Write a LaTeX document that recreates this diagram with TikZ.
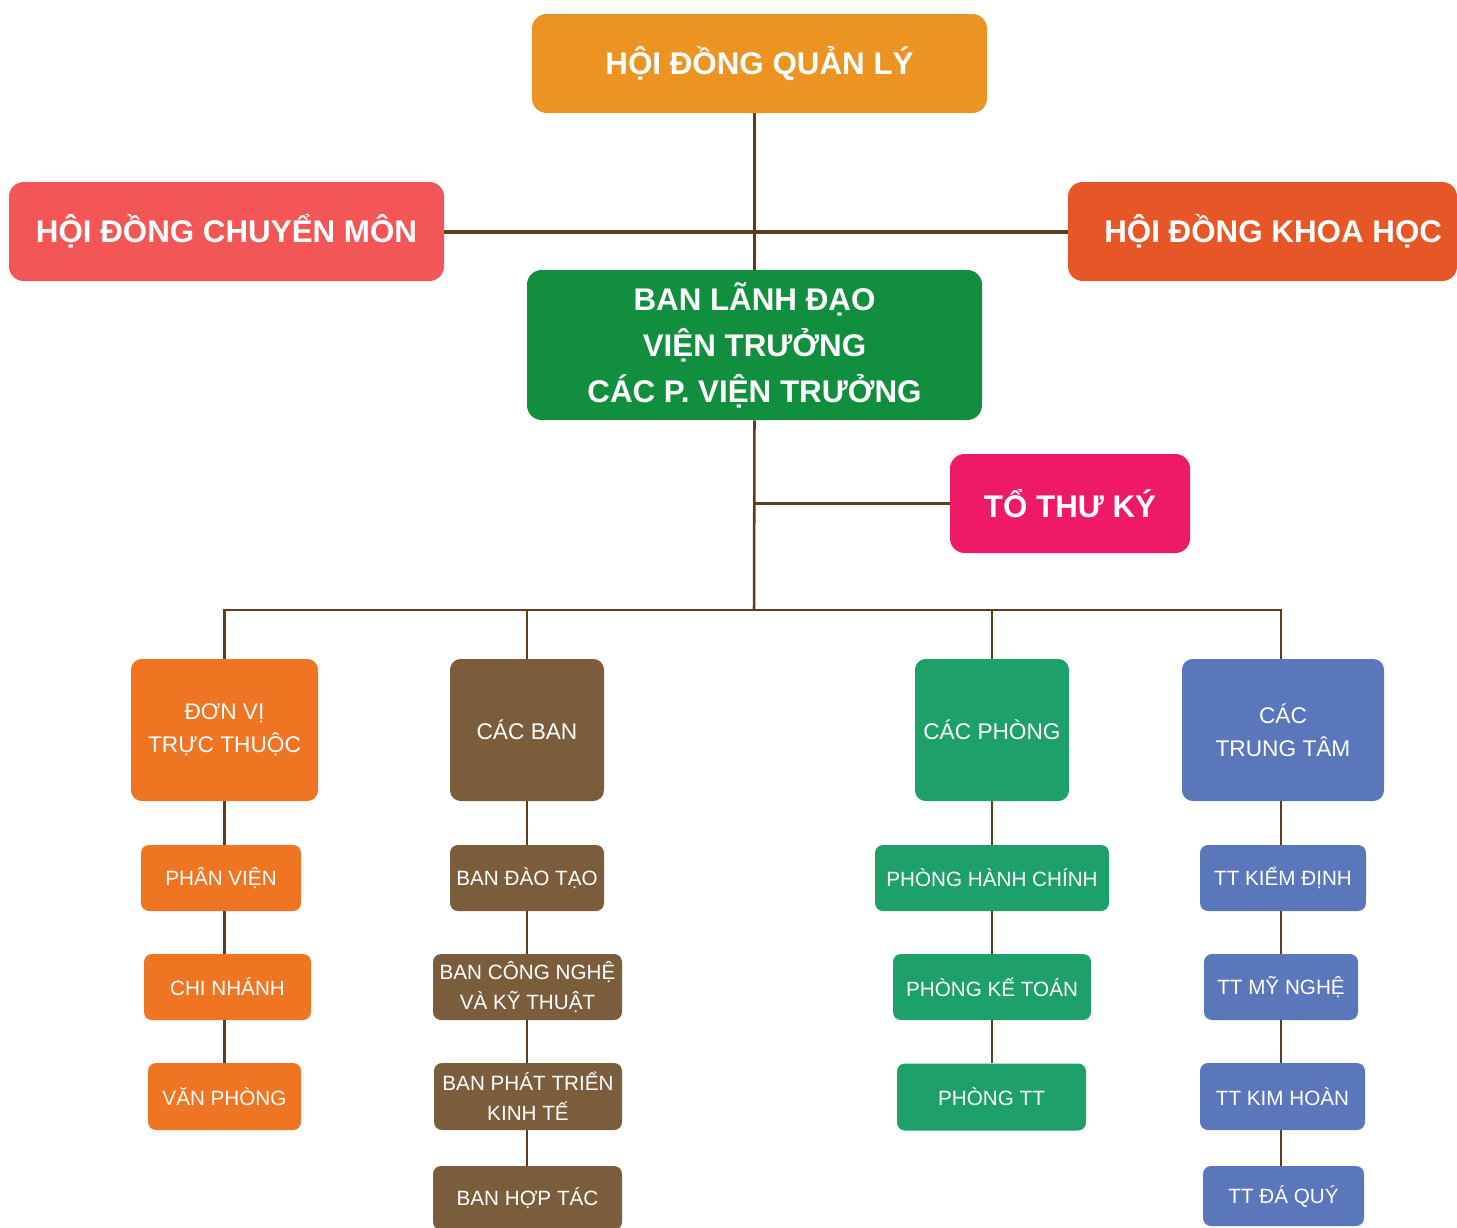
\documentclass[tikz,border=0pt]{standalone}
\usepackage{fontspec}
\setmainfont{Liberation Sans}
\usetikzlibrary{backgrounds}
\definecolor{cqly}{HTML}{EB9422}
\definecolor{ccm}{HTML}{F35656}
\definecolor{ckh}{HTML}{E65627}
\definecolor{cld}{HTML}{128E3F}
\definecolor{ctk}{HTML}{EE1A67}
\definecolor{cor}{HTML}{F07522}
\definecolor{cbr}{HTML}{7C5D3B}
\definecolor{cgr}{HTML}{1EA06B}
\definecolor{cbl}{HTML}{5B77BB}
\definecolor{cline}{HTML}{5C3D1E}
\tikzset{
  bx/.style={rectangle, inner sep=0pt, text=white, align=center},
  big/.style={bx, rounded corners=11pt, font=\fontsize{23.5}{34.5}\selectfont\bfseries},
  mid/.style={bx, rounded corners=8pt, font=\fontsize{17}{25}\selectfont},
  sml/.style={bx, rounded corners=6pt, font=\fontsize{15.5}{22.5}\selectfont},
  conn/.style={draw=cline, line width=1.9pt},
}
\begin{document}
\begin{tikzpicture}[x=0.75pt,y=-0.75pt]
\useasboundingbox (0,0) rectangle (1457,1228);
% top level
\node[big, fill=cqly, minimum width=455*0.75pt, minimum height=99*0.75pt] (hdql) at (759.5,63.5) {HỘI ĐỒNG QUẢN LÝ};
\node[big, fill=ccm, minimum width=435*0.75pt, minimum height=99*0.75pt] (hdcm) at (226.5,231.5) {HỘI ĐỒNG CHUYỂN MÔN};
\node[big, fill=ckh, minimum width=389*0.75pt, minimum height=99*0.75pt] (hdkh) at (1262.5,231.5) {\hspace*{16pt}HỘI ĐỒNG KHOA HỌC};
\node[big, fill=cld, minimum width=455*0.75pt, minimum height=150*0.75pt] (bld) at (754.5,345) {BAN LÃNH ĐẠO\\VIỆN TRƯỞNG\\CÁC P. VIỆN TRƯỞNG};
\node[big, fill=ctk, minimum width=240*0.75pt, minimum height=99*0.75pt] (ttk) at (1070,503.5) {TỔ THƯ KÝ};
% level 2
\node[mid, fill=cor, minimum width=187*0.75pt, minimum height=142*0.75pt] (dv) at (224.5,730) {ĐƠN VỊ\\TRỰC THUỘC};
\node[mid, fill=cbr, minimum width=154*0.75pt, minimum height=142*0.75pt] (cb) at (527,730) {CÁC BAN};
\node[mid, fill=cgr, minimum width=154*0.75pt, minimum height=142*0.75pt] (cp) at (992,730) {CÁC PHÒNG};
\node[mid, fill=cbl, minimum width=202*0.75pt, minimum height=142*0.75pt] (ctt) at (1283,730) {CÁC\\TRUNG TÂM};
% column 1
\node[sml, fill=cor, minimum width=160*0.75pt, minimum height=66*0.75pt] (pv) at (221,878) {PHÂN VIỆN};
\node[sml, fill=cor, minimum width=167*0.75pt, minimum height=66*0.75pt] (cn) at (227.5,987) {CHI NHÁNH};
\node[sml, fill=cor, minimum width=153*0.75pt, minimum height=67*0.75pt] (vp) at (224.5,1096.5) {VĂN PHÒNG};
% column 2
\node[sml, fill=cbr, minimum width=154*0.75pt, minimum height=66*0.75pt] (bdt) at (527,878) {BAN ĐÀO TẠO};
\node[sml, fill=cbr, minimum width=189*0.75pt, minimum height=66*0.75pt] (bcn) at (527.5,987) {BAN CÔNG NGHỆ\\VÀ KỸ THUẬT};
\node[sml, fill=cbr, minimum width=188*0.75pt, minimum height=67*0.75pt] (bpt) at (528,1096.5) {BAN PHÁT TRIỂN\\KINH TẾ};
\node[sml, fill=cbr, minimum width=189*0.75pt, minimum height=64*0.75pt] (bht) at (527.5,1198) {BAN HỢP TÁC};
% column 3
\node[sml, fill=cgr, minimum width=234*0.75pt, minimum height=66*0.75pt] (phc) at (992,878) {PHÒNG HÀNH CHÍNH};
\node[sml, fill=cgr, minimum width=198*0.75pt, minimum height=66*0.75pt] (pkt) at (992,987) {PHÒNG KẾ TOÁN};
\node[sml, fill=cgr, minimum width=189*0.75pt, minimum height=67*0.75pt] (ptt) at (991.5,1097) {PHÒNG TT};
% column 4
\node[sml, fill=cbl, minimum width=166*0.75pt, minimum height=66*0.75pt] (tkd) at (1283,878) {TT KIỂM ĐỊNH};
\node[sml, fill=cbl, minimum width=154*0.75pt, minimum height=66*0.75pt] (tmn) at (1281,987) {TT MỸ NGHỆ};
\node[sml, fill=cbl, minimum width=165*0.75pt, minimum height=67*0.75pt] (tkh) at (1282.5,1096.5) {TT KIM HOÀN};
\node[sml, fill=cbl, minimum width=161*0.75pt, minimum height=60*0.75pt] (tdq) at (1283.5,1196) {TT ĐÁ QUÝ};
\coordinate (bus) at (754,610);
\begin{pgfonlayer}{background}
\draw[draw=cline, line width=3pt] (hdcm.east) -- (hdkh.west);
\draw[conn] (bld.north) -- (bld.north |- hdql.south);
\draw[conn] (bld.south) -- (bus);
\draw[conn] (ttk.west) -- (ttk.west -| bld.south);
\draw[conn] (dv.north) |- (bus) -| ([xshift=-1.5pt]ctt.north);
\draw[conn] (cb.north) -- (cb.north |- bus);
\draw[conn] (cp.north) -- (cp.north |- bus);
\draw[conn] (dv.south) -- (dv.south |- vp.north);
\draw[conn] (cb.south) -- (cb.south |- bht.north);
\draw[conn] (cp.south) -- (cp.south |- ptt.north);
\draw[conn] ([xshift=-1.5pt]ctt.south) -- ([xshift=-1.5pt]ctt.south |- tdq.north);
\end{pgfonlayer}
\end{tikzpicture}
\end{document}
